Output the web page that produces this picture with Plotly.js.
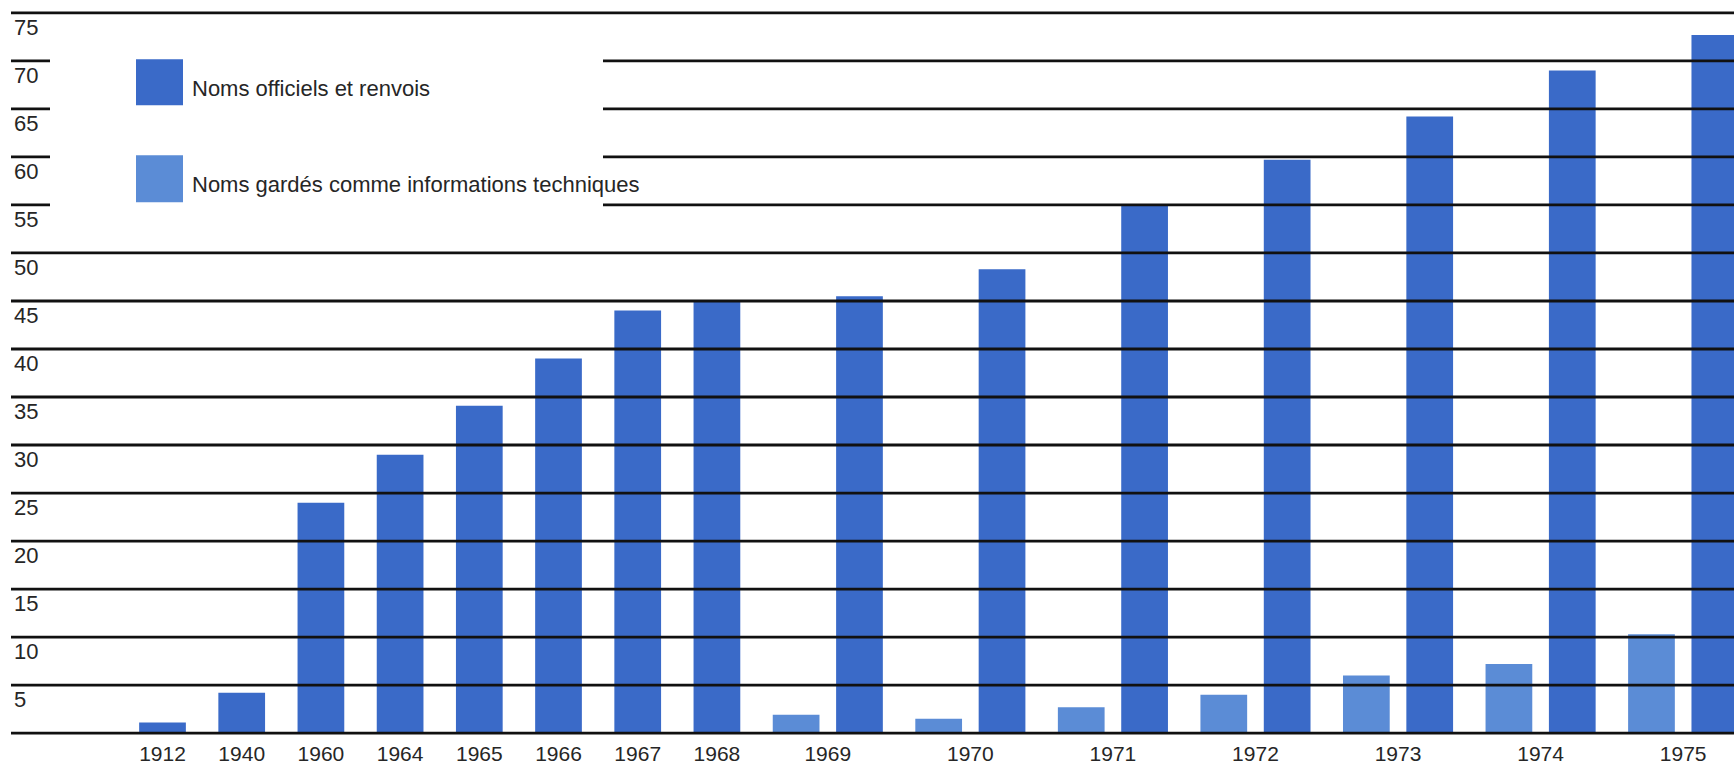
<!DOCTYPE html>
<html>
<head>
<meta charset="utf-8">
<script src="https://cdn.plot.ly/plotly-3.0.1.min.js"></script>
<style>
html,body{margin:0;padding:0;background:#fff;}
#chart{width:1734px;height:770px;}
</style>
</head>
<body>
<div id="chart"></div>
<script>
// ---- data ----
const years = ['1912','1940','1960','1964','1965','1966','1967','1968','1969','1970','1971','1972','1973','1974','1975'];
const officialNames = [1.1, 4.2, 24.0, 29.0, 34.1, 39.0, 44.0, 45.0, 45.5, 48.3, 55.0, 59.7, 64.2, 69.0, 72.7];
const technicalNames = [null, null, null, null, null, null, null, null, 1.9, 1.5, 2.7, 4.0, 6.0, 7.2, 10.3];
const seriesNames = ['Noms officiels et renvois', 'Noms gardés comme informations techniques'];
const yTickValues = [0, 5, 10, 15, 20, 25, 30, 35, 40, 45, 50, 55, 60, 65, 70, 75];
const brokenLines = [55, 60, 65, 70];

// ---- layout helpers ----
const W = 1734, H = 770;
const ML = 11, MR = 0, MT = 9.8, MB = 34.1;
const plotW = W - ML - MR, plotH = H - MT - MB;
const px = x => (x - ML) / plotW;
const py = y => (H - MB - y) / plotH;

const darkBlue = '#3a6ac8';
const lightBlue = '#5b8cd6';
const font = 'Liberation Sans, Arial, Helvetica, sans-serif';
const textColor = '#262626';

// slot positions: single bars one slot each; paired years get light + dark bar
let pos = 0;
const xOfficial = [], xTech = [], yTech = [], tickPos = [];
years.forEach((yr, i) => {
  if (technicalNames[i] !== null) {
    xTech.push(pos); yTech.push(technicalNames[i]);
    xOfficial.push(pos + 0.8);
    tickPos.push(pos + 0.4);
    pos += 1.8;
  } else {
    xOfficial.push(pos);
    tickPos.push(pos);
    pos += 1;
  }
});

const traces = [
  { type: 'bar', x: xTech, y: yTech, name: seriesNames[1], width: 0.59,
    marker: { color: lightBlue, line: { width: 0 } }, hoverinfo: 'y' },
  { type: 'bar', x: xOfficial, y: officialNames, name: seriesNames[0], width: 0.59,
    marker: { color: darkBlue, line: { width: 0 } }, hoverinfo: 'y' }
];

// grid lines
const shapes = [];
const lineStyle = { color: '#111111', width: 2.8 };
yTickValues.forEach(v => {
  if (brokenLines.includes(v)) {
    shapes.push({ type: 'line', xref: 'paper', yref: 'y', x0: 0, x1: px(50), y0: v, y1: v, line: lineStyle });
    shapes.push({ type: 'line', xref: 'paper', yref: 'y', x0: px(603), x1: 1, y0: v, y1: v, line: lineStyle });
  } else {
    shapes.push({ type: 'line', xref: 'paper', yref: 'y', x0: 0, x1: 1, y0: v, y1: v, line: lineStyle });
  }
});
// legend swatches
shapes.push({ type: 'rect', xref: 'paper', yref: 'paper', x0: px(136), x1: px(183), y0: py(105), y1: py(59),
  fillcolor: darkBlue, line: { width: 0 } });
shapes.push({ type: 'rect', xref: 'paper', yref: 'paper', x0: px(136), x1: px(183), y0: py(202), y1: py(155),
  fillcolor: lightBlue, line: { width: 0 } });

const annotations = [
  { xref: 'paper', yref: 'paper', x: px(190), y: py(88), xanchor: 'left', yanchor: 'middle',
    text: seriesNames[0], showarrow: false, font: { family: font, size: 22, color: textColor } },
  { xref: 'paper', yref: 'paper', x: px(190), y: py(184), xanchor: 'left', yanchor: 'middle',
    text: seriesNames[1], showarrow: false, font: { family: font, size: 22, color: textColor } }
];

const layout = {
  width: W, height: H,
  margin: { l: ML, r: MR, t: MT, b: MB, pad: 0 },
  paper_bgcolor: '#ffffff', plot_bgcolor: '#ffffff',
  barmode: 'overlay',
  showlegend: false,
  font: { family: font, color: textColor },
  xaxis: {
    range: [-1.913, 19.842], tickmode: 'array', tickvals: tickPos, ticktext: years,
    ticks: '', showgrid: false, zeroline: false, showline: false,
    ticklabelstandoff: 3,
    tickfont: { family: font, size: 21, color: textColor }, fixedrange: true
  },
  yaxis: {
    range: [-0.3, 75.3], tickmode: 'array',
    tickvals: yTickValues.slice(1), ticktext: yTickValues.slice(1).map(String),
    ticks: '', showgrid: false, zeroline: false, showline: false,
    ticklabelposition: 'inside', ticklabelshift: 14, ticklabelstandoff: 0,
    tickfont: { family: font, size: 22, color: textColor }, fixedrange: true
  },
  shapes: shapes,
  annotations: annotations
};

Plotly.newPlot('chart', traces, layout, { displayModeBar: false, staticPlot: true });
</script>
</body>
</html>
